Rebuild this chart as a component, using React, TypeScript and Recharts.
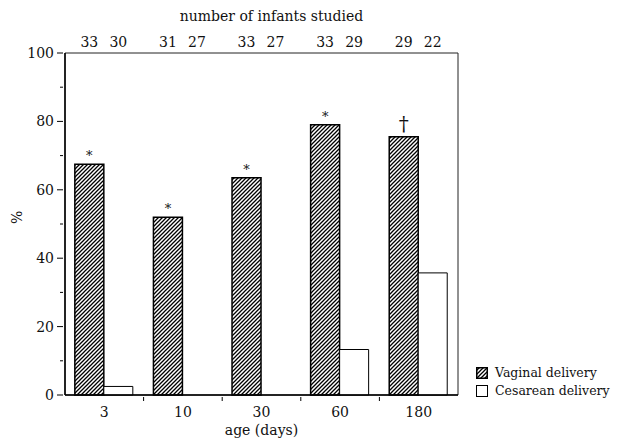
import { BarChart, Bar, XAxis, YAxis, LabelList, ReferenceArea } from 'recharts';

const ages = ['3', '10', '30', '60', '180'];
const vaginal = [67.5, 52, 63.5, 79, 75.5];
const cesarean = [2.5, 0, 0, 13.3, 35.7];
const nVaginal = [33, 31, 33, 33, 29];
const nCesarean = [30, 27, 27, 29, 22];
const marks = ['*', '*', '*', '*', '†'];
const yTicks = [0, 10, 20, 30, 40, 50, 60, 70, 80, 90, 100];

const data = ages.map((age, i) => ({
  age,
  vaginal: vaginal[i],
  cesarean: cesarean[i],
  nV: nVaginal[i],
  mark: marks[i],
}));

const W = 617;
const H = 441;
const M = { top: 53, right: 159, left: 15, bottom: 16 };
const PLOT_LEFT = 65;
const PLOT_RIGHT = W - M.right;
const BAND = (PLOT_RIGHT - PLOT_LEFT) / ages.length;
const FONT = "'DejaVu Serif', 'Liberation Serif', serif";

const YTick = ({ x, y, payload }: any) => {
  const major = payload.value % 20 === 0;
  return (
    <g>
      <line x1={x - (major ? 6 : 3)} x2={x} y1={y} y2={y} stroke="#000" strokeWidth={1} />
      {major && (
        <text x={x - 9} y={y} dy={5} textAnchor="end" fontSize={14} fontFamily={FONT} fill="#111">
          {payload.value}
        </text>
      )}
    </g>
  );
};

const XTick = ({ x, y, payload, index }: any) => (
  <g>
    {index < ages.length - 1 && (
      <line x1={x + BAND / 2} x2={x + BAND / 2} y1={y} y2={y + 4} stroke="#000" />
    )}
    <text x={x} y={y + 20} textAnchor="middle" fontSize={14} fontFamily={FONT} fill="#111">
      {payload.value}
    </text>
  </g>
);

// both counts hang off the vaginal bar, since a zero-height bar gets no label
const CountLabel = ({ x, width, value, index }: any) => (
  <g fontSize={14} fontFamily={FONT} fill="#111">
    <text x={x + width / 2} y={M.top - 6} textAnchor="middle">{value}</text>
    <text x={x + width * 1.5} y={M.top - 6} textAnchor="middle">{nCesarean[index]}</text>
  </g>
);

const MarkLabel = ({ x, y, width, value }: any) => {
  const dagger = value === '†';
  return (
    <text
      x={x + width / 2}
      y={y - (dagger ? 6 : 4)}
      textAnchor="middle"
      fontSize={dagger ? 20 : 13}
      fontFamily={FONT}
      fill="#111"
    >
      {value}
    </text>
  );
};

export default function App() {
  return (
    <div style={{ position: 'absolute', left: 0, top: 0, width: W, height: H, background: '#fff', fontFamily: FONT }}>
      <div
        style={{
          position: 'absolute',
          left: PLOT_LEFT,
          width: PLOT_RIGHT - PLOT_LEFT + 20,
          top: 8,
          textAlign: 'center',
          fontSize: 14,
          color: '#111',
        }}
      >
        number of infants studied
      </div>
      <BarChart width={W} height={H} data={data} margin={M} barCategoryGap="12.5%" barGap={0}>
        <defs>
          <pattern id="hatch" patternUnits="userSpaceOnUse" width={4} height={4}>
            <rect width={4} height={4} fill="#fff" />
            <path d="M-1,1 L1,-1 M0,4 L4,0 M3,5 L5,3" stroke="#000" strokeWidth={1.3} />
          </pattern>
        </defs>
        <ReferenceArea y1={0} y2={100} fill="none" stroke="#222" strokeWidth={1} ifOverflow="visible" />
        <XAxis
          dataKey="age"
          axisLine={{ stroke: '#000', strokeWidth: 1.5 }}
          tickLine={false}
          tickSize={0}
          tick={<XTick />}
          height={30}
          interval={0}
          label={{ value: 'age (days)', position: 'insideBottom', offset: -10, fontSize: 14, fontFamily: FONT, fill: '#111' }}
        />
        <YAxis
          domain={[0, 100]}
          ticks={yTicks}
          interval={0}
          width={50}
          axisLine={{ stroke: '#000', strokeWidth: 1.5 }}
          tickLine={false}
          tickSize={0}
          tick={<YTick />}
          label={{ value: '%', angle: -90, position: 'insideLeft', offset: 2, fontSize: 14, fontFamily: FONT, fill: '#111' }}
        />
        <Bar dataKey="vaginal" fill="url(#hatch)" stroke="#000" strokeWidth={1.5} isAnimationActive={false}>
          <LabelList dataKey="nV" content={<CountLabel />} />
          <LabelList dataKey="mark" content={<MarkLabel />} />
        </Bar>
        <Bar dataKey="cesarean" fill="#fff" stroke="#000" strokeWidth={1} isAnimationActive={false} />
      </BarChart>
      <div
        style={{
          position: 'absolute',
          left: 476,
          top: 364,
          fontSize: 12.5,
          color: '#111',
          lineHeight: '18px',
          whiteSpace: 'nowrap',
        }}
      >
        <div style={{ display: 'flex', alignItems: 'center' }}>
          <svg width={12} height={12} style={{ marginRight: 7 }}>
            <rect x={0.75} y={0.75} width={10.5} height={10.5} fill="url(#hatch)" stroke="#000" strokeWidth={1.5} />
          </svg>
          Vaginal delivery
        </div>
        <div style={{ display: 'flex', alignItems: 'center' }}>
          <svg width={12} height={12} style={{ marginRight: 7 }}>
            <rect x={0.5} y={0.5} width={11} height={11} fill="#fff" stroke="#000" strokeWidth={1} />
          </svg>
          Cesarean delivery
        </div>
      </div>
    </div>
  );
}
